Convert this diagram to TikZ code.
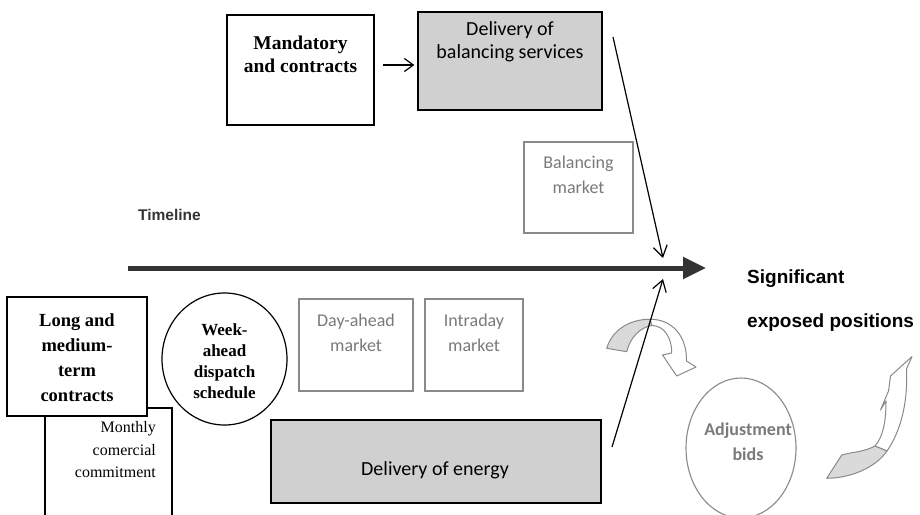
\documentclass[tikz,border=0pt]{standalone}
\usepackage{fontspec}
\setmainfont{Liberation Serif}
\newfontfamily\calib{Carlito}
\newfontfamily\arialf{Liberation Sans}
\usetikzlibrary{arrows.meta,shapes.geometric}
\definecolor{boxgray}{HTML}{D0D0D0}
\definecolor{linegray}{HTML}{8A8A8A}
\definecolor{textgray}{HTML}{7A7A7A}
\definecolor{bandgray}{HTML}{DADADA}
\definecolor{tlgray}{HTML}{333333}
\begin{document}
\begin{tikzpicture}[x=1pt,y=-1pt,
  plainbox/.style={draw=black,line width=1.2pt,fill=white,rectangle,inner sep=0pt},
  greybox/.style={plainbox,fill=boxgray},
  mktbox/.style={draw=linegray,line width=1.1pt,fill=white,rectangle,inner sep=0pt},
  serifbold/.style={font=\fontsize{19.5}{23}\selectfont\bfseries,align=center,inner sep=0pt},
  calibtext/.style={font=\calib\fontsize{20}{23}\selectfont,align=center,inner sep=0pt},
  mkttext/.style={font=\calib\fontsize{18}{25}\selectfont,text=textgray,align=center,inner sep=0pt},
  thinarrow/.style={line width=1.2pt,-{Straight Barb[length=11pt,width=14pt]}},
  band/.style={draw=linegray,line width=1pt,line join=round}]
\useasboundingbox (0,0) rectangle (920,514);
\fill[white] (0,0) rectangle (920,514);

% upper row: mandatory contracts feeding balancing services
\node[plainbox,minimum width=147pt,minimum height=110pt] (mand) at (300.5,70) {};
\node[serifbold] (mandt) at (300.5,54) {Mandatory\\and contracts};
\node[greybox,minimum width=184pt,minimum height=98pt] (balserv) at (510,61) {};
\node[calibtext] (balservt) at (510,42) {Delivery of\\balancing services};
\draw[line width=1.2pt,-{Straight Barb[length=9pt,width=13pt]}]
  ([shift={(8,-5)}]mand.east) -- ([shift={(-3,4)}]balserv.west);

% balancing market
\node[mktbox,minimum width=109pt,minimum height=91pt] (balmkt) at (578.5,187.5) {};
\node[mkttext] (balmktt) at (578.5,175) {Balancing\\market};

% timeline
\node[font=\arialf\bfseries\fontsize{15.5}{18}\selectfont,text=tlgray,anchor=base west,inner sep=0pt] (tllabel) at (138,220) {Timeline};
\coordinate (tlstart) at (128,268);
\coordinate (tlend) at (706,268);
\draw[line width=5pt,tlgray,-{Triangle[length=23pt,width=21pt]}] (tlstart) -- (tlend);

\node[font=\arialf\bfseries\fontsize{19}{22}\selectfont,anchor=base west,inner sep=0pt] (sig1) at (747,283) {Significant};
\node[font=\arialf\bfseries\fontsize{19}{22}\selectfont,anchor=base west,inner sep=0pt] (sig2) at (747,327) {exposed positions};

% lower row
\node[plainbox,minimum width=127pt,minimum height=122pt] (monthly) at (108.5,469) {};
\node[font=\fontsize{16}{22.5}\selectfont,align=right,anchor=east,inner sep=0pt] (monthlyt) at (156,450) {Monthly\\comercial\\commitment};
\node[plainbox,minimum width=140pt,minimum height=119pt] (longc) at (77,356.5) {};
\node[serifbold,font=\fontsize{18.5}{25}\selectfont\bfseries] (longct) at (77,357.5) {Long and\\medium-\\term\\contracts};
\node[ellipse,draw=black,line width=1.2pt,fill=white,minimum width=125pt,minimum height=132pt,inner sep=0pt] (week) at (224.5,359) {};
\node[serifbold,font=\fontsize{17}{21}\selectfont\bfseries] (weekt) at (224.5,361) {Week-\\ahead\\dispatch\\schedule};

\node[mktbox,minimum width=114pt,minimum height=92pt] (dayah) at (356,345) {};
\node[mkttext] (dayaht) at (356,332.5) {Day-ahead\\market};
\node[mktbox,minimum width=98pt,minimum height=92pt] (intra) at (474,345) {};
\node[mkttext] (intrat) at (474,332.5) {Intraday\\market};

\node[greybox,minimum width=330pt,minimum height=83pt] (energy) at (436,461.5) {};
\node[calibtext] (energyt) at (435,470) {Delivery of energy};

% adjustment bids
\node[ellipse,draw=linegray,line width=1.1pt,fill=white,minimum width=110pt,minimum height=140pt,inner sep=0pt] (adjust) at (741,448) {};
\node[font=\calib\bfseries\fontsize{18}{25}\selectfont,text=textgray,align=center,inner sep=0pt] (adjustt) at (748,442) {Adjustment\\bids};

% curved arrow above the timeline's end
\filldraw[band,fill=bandgray] (606.7,348.3) .. controls (612,330) and (630,319) .. (650,319.3)
  -- (652,325.5) .. controls (640,327) and (630,338) .. (626.7,351.7) -- cycle;
\filldraw[band,fill=white] (650,319.3) .. controls (672,319) and (687,336) .. (686.5,361)
  -- (696,367) -- (676.7,376) -- (662.5,355) -- (671.7,353)
  .. controls (672,338) and (664,325.5) .. (652,325.5) -- cycle;

% curved arrow beside the adjustment bids
\filldraw[band,fill=white] (912,356.5) -- (890.5,376) -- (888.5,391) -- (880.5,410)
  -- (886,401) .. controls (886,418) and (884,436) .. (875,446)
  -- (887,451) .. controls (900,432) and (908,405) .. (906.5,369) -- cycle;
\filldraw[band,fill=bandgray] (875,446) .. controls (864,452) and (852,452) .. (841.7,455)
  -- (826.7,478.3) .. controls (852,478) and (876,467) .. (887,451) -- cycle;

% connectors into the timeline
\coordinate (bsstart) at (613,37);
\coordinate (bstip) at (663,258);
\draw[thinarrow] (bsstart) -- (bstip);
\coordinate (enstart) at (612,447);
\coordinate (entip) at (663,279);
\draw[thinarrow] (enstart) -- (entip);
\end{tikzpicture}
\end{document}
